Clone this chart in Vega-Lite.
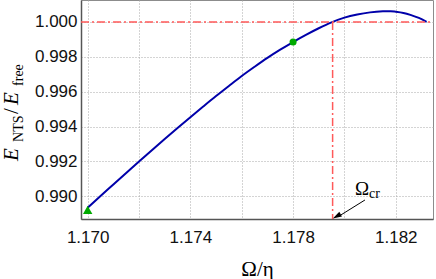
{
  "$schema": "https://vega.github.io/schema/vega-lite/v6.json",
  "width": 352,
  "height": 219,
  "autosize": "none",
  "padding": {"left": 81, "top": 0, "right": 3, "bottom": 60},
  "background": "white",
  "config": {
    "view": {"stroke": "#8c8c8c", "strokeWidth": 1},
    "axis": {
      "labelFont": "Liberation Sans",
      "labelFontSize": 17,
      "labelColor": "#111111",
      "domainColor": "#555555",
      "domainWidth": 1.5
    }
  },
  "datasets": {
    "ylab": [{"x": 1.16729, "y": 0.99203}],
    "omega": [{"x": 1.18041, "y": 0.99008}]
  },
  "layer": [
    {
      "data": {"values": [
        {"x": 1.1700, "y": 0.98935},
        {"x": 1.1705, "y": 0.99002},
        {"x": 1.1710, "y": 0.99068},
        {"x": 1.1715, "y": 0.99134},
        {"x": 1.1720, "y": 0.99200},
        {"x": 1.1725, "y": 0.99265},
        {"x": 1.1730, "y": 0.99329},
        {"x": 1.1735, "y": 0.99392},
        {"x": 1.1740, "y": 0.99454},
        {"x": 1.1745, "y": 0.99515},
        {"x": 1.1750, "y": 0.99575},
        {"x": 1.1755, "y": 0.99633},
        {"x": 1.1760, "y": 0.99690},
        {"x": 1.1765, "y": 0.99743},
        {"x": 1.1770, "y": 0.99794},
        {"x": 1.1775, "y": 0.99841},
        {"x": 1.1780, "y": 0.99885},
        {"x": 1.1785, "y": 0.99926},
        {"x": 1.1790, "y": 0.99964},
        {"x": 1.1795, "y": 0.99998},
        {"x": 1.1800, "y": 1.00025},
        {"x": 1.1805, "y": 1.00043},
        {"x": 1.1810, "y": 1.00055},
        {"x": 1.1815, "y": 1.00061},
        {"x": 1.1818, "y": 1.00062},
        {"x": 1.1820, "y": 1.00059},
        {"x": 1.1823, "y": 1.00052},
        {"x": 1.1826, "y": 1.00039},
        {"x": 1.1829, "y": 1.00023},
        {"x": 1.1832, "y": 1.00000}
      ]},
      "mark": {"type": "line", "color": "#0000aa", "strokeWidth": 2, "interpolate": "monotone"},
      "encoding": {
        "x": {
          "field": "x",
          "type": "quantitative",
          "scale": {"domain": [1.16974, 1.18345], "nice": false, "zero": false},
          "axis": {
            "values": [1.17, 1.172, 1.174, 1.176, 1.178, 1.18, 1.182],
            "labelExpr": "round(datum.value*1000) % 4 == 2 ? format(datum.value, '.3f') : ''",
            "grid": true,
            "gridColor": "#a8a8a8",
            "gridDash": [1, 2],
            "gridWidth": 1,
            "ticks": false,
            "labelPadding": 10,
            "title": "Ω/η",
            "titleFont": "Liberation Serif",
            "titleFontSize": 21,
            "titleFontWeight": "normal",
            "titleColor": "#000000",
            "titlePadding": 13
          }
        },
        "y": {
          "field": "y",
          "type": "quantitative",
          "scale": {"domain": [0.9887, 1.00126], "nice": false, "zero": false},
          "axis": {
            "values": [0.99, 0.992, 0.994, 0.996, 0.998, 1.0],
            "format": ".3f",
            "grid": true,
            "gridColor": "#a8a8a8",
            "gridDash": [1, 2],
            "gridWidth": 1,
            "ticks": false,
            "labelPadding": 4,
            "title": null
          }
        }
      }
    },
    {
      "data": {"values": [{"x": 1.16974, "x2": 1.18345, "y": 1.0}]},
      "mark": {"type": "rule", "color": "#ff5a5a", "strokeWidth": 1.5, "strokeDash": [8, 3, 2, 3]},
      "encoding": {"x": {"field": "x", "type": "quantitative"}, "x2": {"field": "x2"}, "y": {"field": "y", "type": "quantitative"}}
    },
    {
      "data": {"values": [{"x": 1.17954, "y": 1.0, "y2": 0.9887}]},
      "mark": {"type": "rule", "color": "#ff5a5a", "strokeWidth": 1.5, "strokeDash": [8, 3, 2, 3]},
      "encoding": {"x": {"field": "x", "type": "quantitative"}, "y": {"field": "y", "type": "quantitative"}, "y2": {"field": "y2"}}
    },
    {
      "data": {"values": [{"x": 1.170, "y": 0.98922}]},
      "mark": {"type": "point", "shape": "triangle-up", "filled": true, "color": "#00aa00", "size": 88, "opacity": 1},
      "encoding": {"x": {"field": "x", "type": "quantitative"}, "y": {"field": "y", "type": "quantitative"}}
    },
    {
      "data": {"values": [{"x": 1.178, "y": 0.99885}]},
      "mark": {"type": "point", "shape": "circle", "filled": true, "color": "#00aa00", "size": 50, "opacity": 1},
      "encoding": {"x": {"field": "x", "type": "quantitative"}, "y": {"field": "y", "type": "quantitative"}}
    },
    {
      "data": {"values": [{"x": 1.18080, "y": 0.98979, "x2": 1.17985, "y2": 0.98892}]},
      "mark": {"type": "rule", "color": "#000000", "strokeWidth": 1},
      "encoding": {"x": {"field": "x", "type": "quantitative"}, "y": {"field": "y", "type": "quantitative"}, "x2": {"field": "x2"}, "y2": {"field": "y2"}}
    },
    {
      "data": {"values": [{"x": 1.17970, "y": 0.98885}]},
      "mark": {"type": "point", "shape": "M0,-1L-0.6,1L0.6,1Z", "angle": 240.8, "filled": true, "color": "#000000", "size": 80, "opacity": 1},
      "encoding": {"x": {"field": "x", "type": "quantitative"}, "y": {"field": "y", "type": "quantitative"}}
    },
    {
      "data": {"name": "omega"},
      "mark": {"type": "text", "text": "Ω", "font": "Liberation Serif", "fontSize": 19, "align": "left", "baseline": "alphabetic", "color": "#000000"},
      "encoding": {"x": {"field": "x", "type": "quantitative"}, "y": {"field": "y", "type": "quantitative"}}
    },
    {
      "data": {"name": "omega"},
      "mark": {"type": "text", "text": "cr", "font": "Liberation Serif", "fontSize": 14, "align": "left", "baseline": "alphabetic", "dx": 14, "dy": 3, "color": "#000000"},
      "encoding": {"x": {"field": "x", "type": "quantitative"}, "y": {"field": "y", "type": "quantitative"}}
    },
    {
      "data": {"name": "ylab"},
      "mark": {"type": "text", "text": "E", "font": "Liberation Serif", "fontStyle": "italic", "fontSize": 21, "angle": 270, "align": "left", "baseline": "alphabetic", "color": "#000000"},
      "encoding": {"x": {"field": "x", "type": "quantitative"}, "y": {"field": "y", "type": "quantitative"}}
    },
    {
      "data": {"name": "ylab"},
      "mark": {"type": "text", "text": "NTS", "font": "Liberation Serif", "fontSize": 14, "angle": 270, "align": "left", "baseline": "alphabetic", "dx": 19, "dy": 5, "color": "#000000"},
      "encoding": {"x": {"field": "x", "type": "quantitative"}, "y": {"field": "y", "type": "quantitative"}}
    },
    {
      "data": {"name": "ylab"},
      "mark": {"type": "text", "text": "/", "font": "Liberation Serif", "fontSize": 21, "angle": 270, "align": "left", "baseline": "alphabetic", "dx": 47, "color": "#000000"},
      "encoding": {"x": {"field": "x", "type": "quantitative"}, "y": {"field": "y", "type": "quantitative"}}
    },
    {
      "data": {"name": "ylab"},
      "mark": {"type": "text", "text": "E", "font": "Liberation Serif", "fontStyle": "italic", "fontSize": 21, "angle": 270, "align": "left", "baseline": "alphabetic", "dx": 56, "color": "#000000"},
      "encoding": {"x": {"field": "x", "type": "quantitative"}, "y": {"field": "y", "type": "quantitative"}}
    },
    {
      "data": {"name": "ylab"},
      "mark": {"type": "text", "text": "free", "font": "Liberation Serif", "fontSize": 14, "angle": 270, "align": "left", "baseline": "alphabetic", "dx": 75, "dy": 5, "color": "#000000"},
      "encoding": {"x": {"field": "x", "type": "quantitative"}, "y": {"field": "y", "type": "quantitative"}}
    }
  ]
}
